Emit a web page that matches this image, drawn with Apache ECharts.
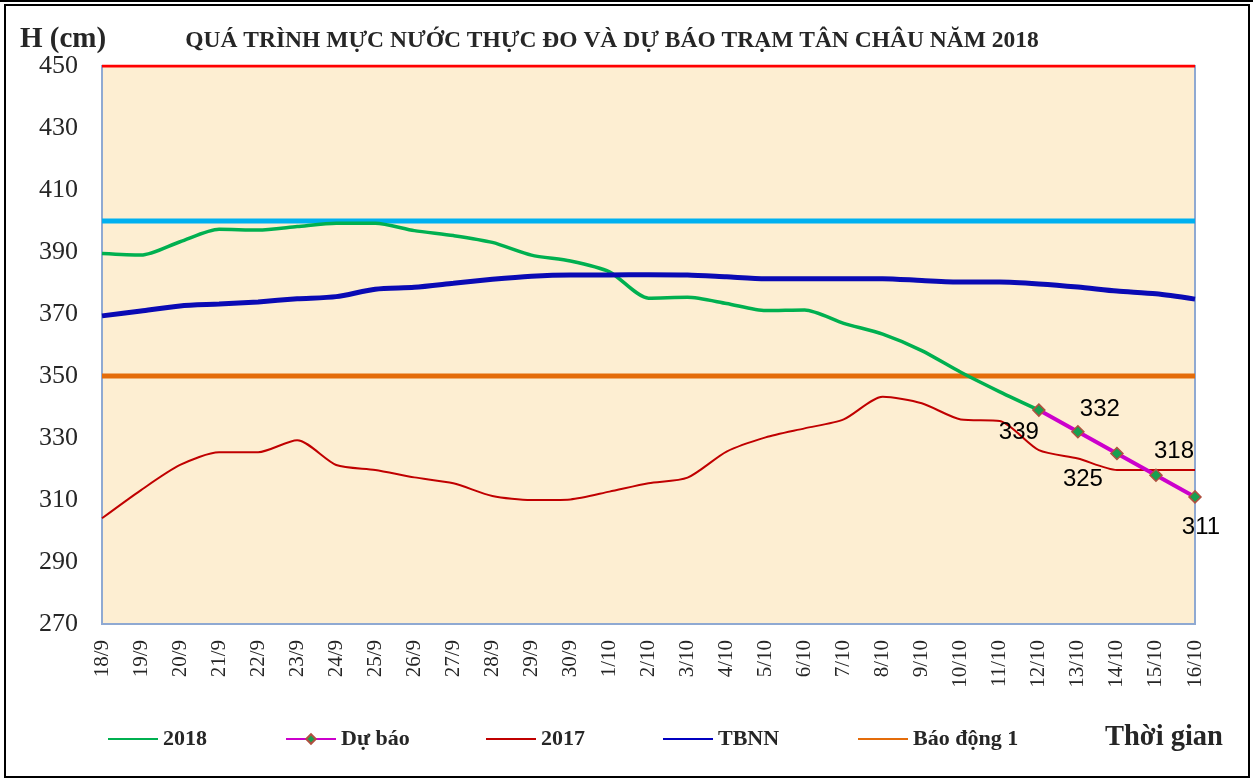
<!DOCTYPE html>
<html>
<head>
<meta charset="utf-8">
<title>Mực nước Tân Châu 2018</title>
<script src="https://cdn.jsdelivr.net/npm/echarts@6/dist/echarts.min.js"></script>
<style>
  html, body { margin: 0; padding: 0; background: #fff; }
  #chart { width: 1253px; height: 780px; }
</style>
</head>
<body>
<div id="chart"></div>
<script>
// ngày quan trắc
const categories = ['18/9', '19/9', '20/9', '21/9', '22/9', '23/9', '24/9', '25/9', '26/9', '27/9',
  '28/9', '29/9', '30/9', '1/10', '2/10', '3/10', '4/10', '5/10', '6/10', '7/10', '8/10', '9/10',
  '10/10', '11/10', '12/10', '13/10', '14/10', '15/10', '16/10'];

// mực nước 2018 (thực đo)
const values2018 = [389.5, 389, 393.3, 397.3, 397.1, 398.2, 399.3, 399.3, 396.9, 395.3, 393.1, 389,
  387.1, 383.6, 375.1, 375.4, 373.4, 371.1, 371.3, 367, 363.5, 358.2, 351.2, 344.9, 339,
  null, null, null, null];

// dự báo
const forecast = [null, null, null, null, null, null, null, null, null, null, null, null, null, null,
  null, null, null, null, null, null, null, null, null, null, 339, 332, 325, 318, 311];

// cùng kỳ 2017
const values2017 = [304.1, 313.2, 321.3, 325.4, 325.4, 329.3, 321.3, 319.7, 317.3, 315.4, 311.3, 310,
  310.2, 312.7, 315.4, 317.2, 325.6, 330.2, 333.1, 336, 343.3, 341.2, 336, 335.5, 326.1, 323.4,
  319.7, 319.7, 319.7];

// trung bình nhiều năm
const tbnn = [369.4, 371, 372.6, 373.2, 373.9, 374.9, 375.6, 378, 378.6, 379.9, 381.2, 382.2, 382.6,
  382.6, 382.7, 382.6, 382, 381.4, 381.4, 381.4, 381.4, 380.8, 380.3, 380.3, 379.7, 378.7, 377.4,
  376.5, 374.8];

// mức báo động
const alarm1 = 350;
const alarm2 = 400;
const alarm3 = 450;

const serif = '"Liberation Serif", "Times New Roman", serif';

// vị trí nhãn dự báo (dx, dy)
const labelOffsets = [[-20, 22], [22, -22], [-34, 26], [18, -24], [6, 30]];

const flat = v => categories.map(() => v);

let fcData = forecast.map((v, i) => {
  if (v == null) return null;
  const k = i - 24;
  return { value: v, label: { show: true, offset: labelOffsets[k] } };
});

let myChart = echarts.init(document.getElementById('chart'));

function legendItem(name, left, color, withMarker) {
  let item = { name: name };
  if (!withMarker) {
    item.icon = 'rect';
    item.itemStyle = { color: color, borderWidth: 0 };
  }
  return {
    data: [item],
    left: left,
    top: 723,
    itemWidth: 50,
    itemHeight: withMarker ? 12 : 2,
    itemGap: 0,
    textStyle: { fontFamily: serif, fontWeight: 'bold', fontSize: 22, color: '#262626' }
  };
}

let option = {
  animation: false,
  backgroundColor: '#fff',
  title: {
    text: 'QUÁ TRÌNH MỰC NƯỚC THỰC ĐO VÀ DỰ BÁO TRẠM TÂN CHÂU NĂM 2018',
    left: 607,
    textAlign: 'center',
    top: 24,
    textStyle: { fontFamily: serif, fontWeight: 'bold', fontSize: 23.5, color: '#262626' }
  },
  legend: [
    legendItem('2018', 103, '#00B050'),
    legendItem('Dự báo', 280, '#CC00CC', true),
    legendItem('2017', 481, '#C00000'),
    legendItem('TBNN', 658, '#0000C0'),
    legendItem('Báo động 1', 853, '#E46C0A')
  ],
  graphic: [
    { type: 'rect', shape: { x: 5, y: 5, width: 1244, height: 772 }, style: { fill: 'none', stroke: '#000', lineWidth: 2 } },
    { type: 'rect', shape: { x: 0, y: 0, width: 1253, height: 2 }, style: { fill: '#000' } },
    { type: 'text', left: 20, top: 25, style: { text: 'H (cm)', font: 'bold 29px ' + serif, fill: '#262626' } },
    { type: 'text', left: 1105, top: 723, style: { text: 'Thời gian', font: 'bold 28.5px ' + serif, fill: '#262626' } }
  ],
  grid: {
    left: 102, right: 58, top: 66, bottom: 156,
    show: true,
    backgroundColor: '#FDEED2',
    borderColor: '#8FA9D2',
    borderWidth: 2
  },
  xAxis: {
    type: 'category',
    data: categories,
    boundaryGap: false,
    axisLine: { show: false },
    axisTick: { show: false },
    axisLabel: { rotate: 90, margin: 16, fontFamily: serif, fontSize: 21, color: '#262626', interval: 0 }
  },
  yAxis: {
    type: 'value',
    min: 270,
    max: 450,
    interval: 20,
    axisLine: { show: false },
    axisTick: { show: false },
    splitLine: { show: false },
    axisLabel: { margin: 24, fontFamily: serif, fontSize: 26, color: '#262626' }
  },
  series: [
    {
      name: 'Báo động 3', type: 'line', data: flat(alarm3), symbol: 'none',
      lineStyle: { color: '#FF0000', width: 3 }, z: 3
    },
    {
      name: 'Báo động 2', type: 'line', data: flat(alarm2), symbol: 'none',
      lineStyle: { color: '#00B0F0', width: 5 }
    },
    {
      name: 'Báo động 1', type: 'line', data: flat(alarm1), symbol: 'none',
      itemStyle: { color: '#E46C0A' },
      lineStyle: { color: '#E46C0A', width: 5 }
    },
    {
      name: '2017', type: 'line', data: values2017, symbol: 'none', smooth: 0.25,
      itemStyle: { color: '#C00000' },
      lineStyle: { color: '#C00000', width: 2 }
    },
    {
      name: '2018', type: 'line', data: values2018, symbol: 'none', smooth: 0.25,
      itemStyle: { color: '#00B050' },
      lineStyle: { color: '#00B050', width: 3.5 }
    },
    {
      name: 'TBNN', type: 'line', data: tbnn, symbol: 'none', smooth: 0.25,
      itemStyle: { color: '#0A0AB4' },
      lineStyle: { color: '#0A0AB4', width: 5 }
    },
    {
      name: 'Dự báo', type: 'line', data: fcData,
      symbol: 'diamond', symbolSize: 12,
      itemStyle: { color: '#17A050', borderColor: '#B05040', borderWidth: 1.5 },
      lineStyle: { color: '#CC00CC', width: 4 },
      label: {
        show: true, position: 'inside',
        fontFamily: '"Liberation Sans", Arial, sans-serif', fontSize: 24, color: '#000'
      },
      z: 5
    }
  ]
};

myChart.setOption(option);
</script>
</body>
</html>
